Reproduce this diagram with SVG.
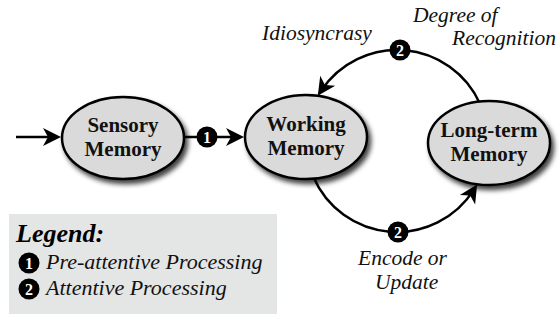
<svg xmlns="http://www.w3.org/2000/svg" width="560" height="320" viewBox="0 0 560 320">
  <defs>
    <filter id="shadow" x="-20%" y="-20%" width="150%" height="160%">
      <feDropShadow dx="3" dy="4" stdDeviation="2.5" flood-color="#000" flood-opacity="0.75"/>
    </filter>
    <!-- swept-back arrowhead; path ends 6px behind the tip -->
    <marker id="head" markerUnits="userSpaceOnUse" markerWidth="20" markerHeight="20" viewBox="0 -10 20 20" refX="12" refY="0" orient="auto" overflow="visible">
      <path d="M0,-9 L18,0 L0,9 L5,0 z" fill="#000"/>
    </marker>
    <style>
      .node ellipse { fill: #dadada; stroke: #000; stroke-width: 2.5; }
      .node text { font-weight: bold; font-size: 21px; text-anchor: middle; fill: #111; }
      .edge { fill: none; stroke: #000; stroke-width: 2.5; }
      .badge circle { fill: #000; }
      .badge text { font-weight: bold; font-size: 16px; fill: #fff; text-anchor: middle; }
      .label { font-style: italic; font-size: 21.5px; fill: #111; }
      .legend-item { font-style: italic; font-size: 22px; fill: #111; }
      .legend-title { font-style: italic; font-weight: bold; font-size: 26px; fill: #000; }
    </style>
  </defs>

  <g font-family="Liberation Serif, DejaVu Serif, serif">
  <!-- connectors -->
  <g id="connectors">
    <path class="edge" d="M16,137 L55,137" marker-end="url(#head)"/>
    <path class="edge" d="M184,137 L238,137" marker-end="url(#head)"/>
    <path class="edge" d="M480.1,104 A91,91 0 0 0 321.1,90.8" marker-end="url(#head)"/>
    <path class="edge" d="M313.2,176.6 A91,91 0 0 0 473.9,189.6" marker-end="url(#head)"/>
    <g class="badge"><circle cx="207" cy="137" r="10.5"/><text x="207" y="142.5">1</text></g>
    <g class="badge"><circle cx="400" cy="50" r="10.5"/><text x="400" y="55.5">2</text></g>
    <g class="badge"><circle cx="398" cy="232" r="10.5"/><text x="398" y="237.5">2</text></g>
  </g>

  <!-- edge labels -->
  <text class="label" x="262" y="40">Idiosyncrasy</text>
  <text class="label" x="413" y="22">Degree of</text>
  <text class="label" x="452" y="45">Recognition</text>
  <text class="label" x="358" y="265">Encode or</text>
  <text class="label" x="375" y="289">Update</text>

  <!-- nodes -->
  <g id="sensory" class="node">
    <ellipse cx="123" cy="138" rx="61" ry="41" filter="url(#shadow)"/>
    <text x="123" y="132">Sensory</text>
    <text x="123" y="156">Memory</text>
  </g>
  <g id="working" class="node">
    <ellipse cx="306" cy="137" rx="61" ry="42" filter="url(#shadow)"/>
    <text x="306" y="131">Working</text>
    <text x="306" y="155">Memory</text>
  </g>
  <g id="longterm" class="node">
    <ellipse cx="489" cy="143" rx="61" ry="42" filter="url(#shadow)"/>
    <text x="489" y="137">Long-term</text>
    <text x="489" y="161">Memory</text>
  </g>

  <!-- legend -->
  <g id="legend">
    <rect x="9" y="214" width="268" height="100" fill="#e4e5e5"/>
    <text class="legend-title" x="16" y="242">Legend:</text>
    <g class="badge"><circle cx="29" cy="263" r="10.5"/><text x="29" y="268.5">1</text></g>
    <text class="legend-item" x="46" y="269">Pre-attentive Processing</text>
    <g class="badge"><circle cx="29" cy="289" r="10.5"/><text x="29" y="294.5">2</text></g>
    <text class="legend-item" x="46" y="295">Attentive Processing</text>
  </g>
  </g>
</svg>
